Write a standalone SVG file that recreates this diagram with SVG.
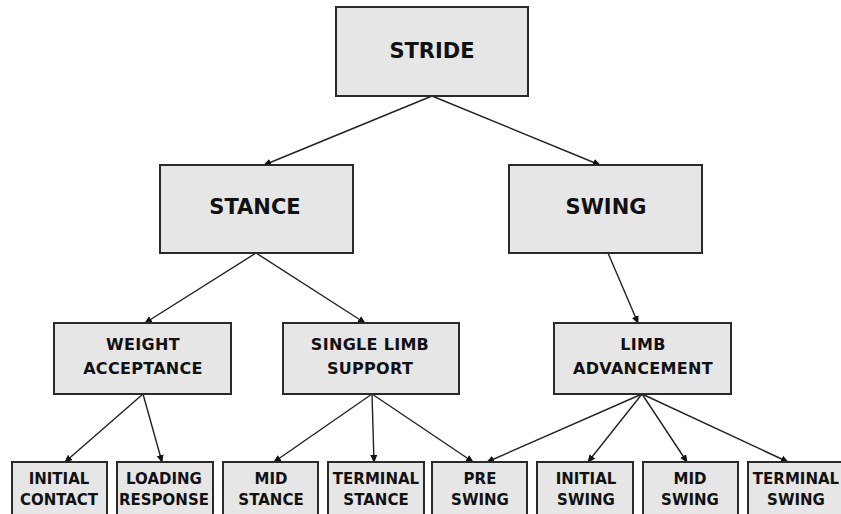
<svg xmlns="http://www.w3.org/2000/svg" width="841" height="514" viewBox="0 0 841 514">
<style>
.box{fill:#e6e6e6;stroke:#2a2a2a;stroke-width:2}
.t1{font-family:"DejaVu Sans",sans-serif;font-weight:bold;font-size:21px;fill:#111;text-anchor:middle}
.t2{font-family:"DejaVu Sans",sans-serif;font-weight:bold;font-size:16px;fill:#111;text-anchor:middle;letter-spacing:0.3px}
.t3{font-family:"DejaVu Sans",sans-serif;font-weight:bold;font-size:15px;fill:#111;text-anchor:middle}
.c{stroke:#222;stroke-width:1.4;fill:none;marker-end:url(#ah)}
</style>
<defs>
<marker id="ah" markerWidth="8" markerHeight="8" refX="7" refY="4" orient="auto" markerUnits="userSpaceOnUse">
<path d="M0,0.5 L8,4 L0,7.5 Z" fill="#111"/>
</marker>
</defs>
<rect width="841" height="514" fill="#fff"/>
<g id="connectors">
<line class="c" x1="432" y1="96" x2="264" y2="165"/>
<line class="c" x1="432" y1="96" x2="600" y2="165"/>
<line class="c" x1="256" y1="253" x2="145" y2="323"/>
<line class="c" x1="256" y1="253" x2="365" y2="323"/>
<line class="c" x1="608" y1="253" x2="638" y2="323"/>
<line class="c" x1="143" y1="394" x2="65" y2="462"/>
<line class="c" x1="143" y1="394" x2="162" y2="462"/>
<line class="c" x1="372" y1="394" x2="274" y2="462"/>
<line class="c" x1="372" y1="394" x2="374" y2="462"/>
<line class="c" x1="372" y1="394" x2="473" y2="462"/>
<line class="c" x1="642" y1="394" x2="487" y2="462"/>
<line class="c" x1="642" y1="394" x2="588" y2="462"/>
<line class="c" x1="642" y1="394" x2="687" y2="462"/>
<line class="c" x1="642" y1="394" x2="788" y2="462"/>
</g>
<g id="stride"><rect class="box" x="336" y="7" width="192" height="89"/><text class="t1" x="432" y="58">STRIDE</text></g>
<g id="stance"><rect class="box" x="160" y="165" width="193" height="88"/><text class="t1" x="255" y="214">STANCE</text></g>
<g id="swing"><rect class="box" x="509" y="165" width="193" height="88"/><text class="t1" x="606" y="214">SWING</text></g>
<g id="weight-acceptance"><rect class="box" x="54" y="323" width="177" height="71"/><text class="t2" x="143" y="350">WEIGHT</text><text class="t2" x="143" y="374">ACCEPTANCE</text></g>
<g id="single-limb-support"><rect class="box" x="283" y="323" width="176" height="71"/><text class="t2" x="370" y="350">SINGLE LIMB</text><text class="t2" x="370" y="374">SUPPORT</text></g>
<g id="limb-advancement"><rect class="box" x="554" y="323" width="177" height="71"/><text class="t2" x="643" y="350">LIMB</text><text class="t2" x="643" y="374">ADVANCEMENT</text></g>
<g id="initial-contact"><rect class="box" x="12" y="462" width="95" height="60"/><text class="t3" x="59" y="484">INITIAL</text><text class="t3" x="59" y="505">CONTACT</text></g>
<g id="loading-response"><rect class="box" x="117" y="462" width="96" height="60"/><text class="t3" x="164" y="484">LOADING</text><text class="t3" x="164" y="505">RESPONSE</text></g>
<g id="mid-stance"><rect class="box" x="223" y="462" width="95" height="60"/><text class="t3" x="271" y="484">MID</text><text class="t3" x="271" y="505">STANCE</text></g>
<g id="terminal-stance"><rect class="box" x="328" y="462" width="96" height="60"/><text class="t3" x="376" y="484">TERMINAL</text><text class="t3" x="376" y="505">STANCE</text></g>
<g id="pre-swing"><rect class="box" x="432" y="462" width="95" height="60"/><text class="t3" x="480" y="484">PRE</text><text class="t3" x="480" y="505">SWING</text></g>
<g id="initial-swing"><rect class="box" x="537" y="462" width="96" height="60"/><text class="t3" x="586" y="484">INITIAL</text><text class="t3" x="586" y="505">SWING</text></g>
<g id="mid-swing"><rect class="box" x="643" y="462" width="95" height="60"/><text class="t3" x="690" y="484">MID</text><text class="t3" x="690" y="505">SWING</text></g>
<g id="terminal-swing"><rect class="box" x="748" y="462" width="96" height="60"/><text class="t3" x="796" y="484">TERMINAL</text><text class="t3" x="796" y="505">SWING</text></g>
</svg>
